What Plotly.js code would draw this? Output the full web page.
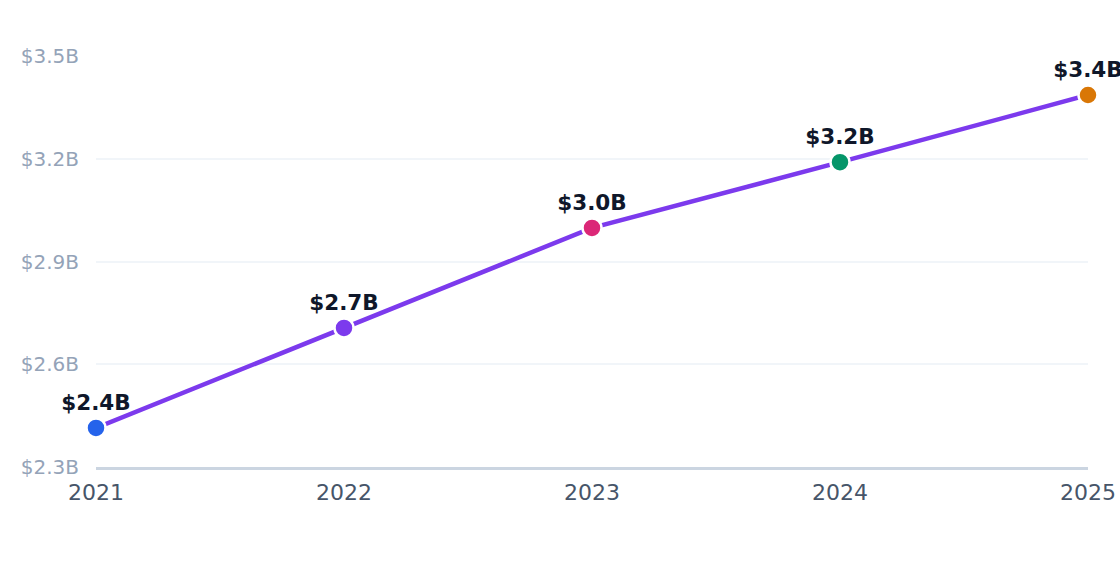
<!DOCTYPE html>
<html>
<head>
<meta charset="utf-8">
<script src="https://cdn.plot.ly/plotly-3.0.1.min.js"></script>
<style>
  html, body { margin: 0; padding: 0; background: #ffffff; }
  #chart { width: 1120px; height: 572px; }
</style>
</head>
<body>
<div id="chart"></div>
<script>
const years = [2021, 2022, 2023, 2024, 2025];
const revenue = [2.414, 2.706, 2.998, 3.19, 3.386];
const pointLabels = ["$2.4B", "$2.7B", "$3.0B", "$3.2B", "$3.4B"];
const pointColors = ["#2563eb", "#7c3aed", "#db2777", "#059669", "#d97706"];
const yTicks = [2.3, 2.6, 2.9, 3.2, 3.5];
const yTickLabels = ["$2.3B", "$2.6B", "$2.9B", "$3.2B", "$3.5B"];

Plotly.newPlot('chart', [{
  x: years,
  y: revenue,
  type: 'scatter',
  mode: 'lines+markers+text',
  text: pointLabels,
  textposition: 'top center',
  textfont: { family: 'DejaVu Sans', size: 21.5, color: '#0f172a', weight: 'bold' },
  cliponaxis: false,
  line: { color: '#7c3aed', width: 4.5 },
  marker: { size: 19, color: pointColors, line: { color: '#ffffff', width: 2.5 } },
  hoverinfo: 'x+y'
}], {
  width: 1120,
  height: 572,
  margin: { l: 96, r: 32, t: 56, b: 105 },
  paper_bgcolor: '#ffffff',
  plot_bgcolor: '#ffffff',
  font: { family: 'DejaVu Sans' },
  showlegend: false,
  xaxis: {
    range: [2021, 2025],
    tickvals: years,
    ticktext: years.map(String),
    tickfont: { size: 22, color: '#475569' },
    showgrid: false,
    zeroline: false,
    showline: true,
    linecolor: '#cbd5e1',
    linewidth: 3,
    ticks: '',
    ticklabelstandoff: 4
  },
  yaxis: {
    range: [2.3, 3.5],
    tickvals: yTicks,
    ticktext: yTickLabels,
    tickfont: { size: 20, color: '#94a3b8' },
    gridcolor: '#f1f5f9',
    gridwidth: 2,
    zeroline: false,
    showline: false,
    ticks: '',
    ticklabelstandoff: 16
  }
}, { displayModeBar: false });
</script>
</body>
</html>
